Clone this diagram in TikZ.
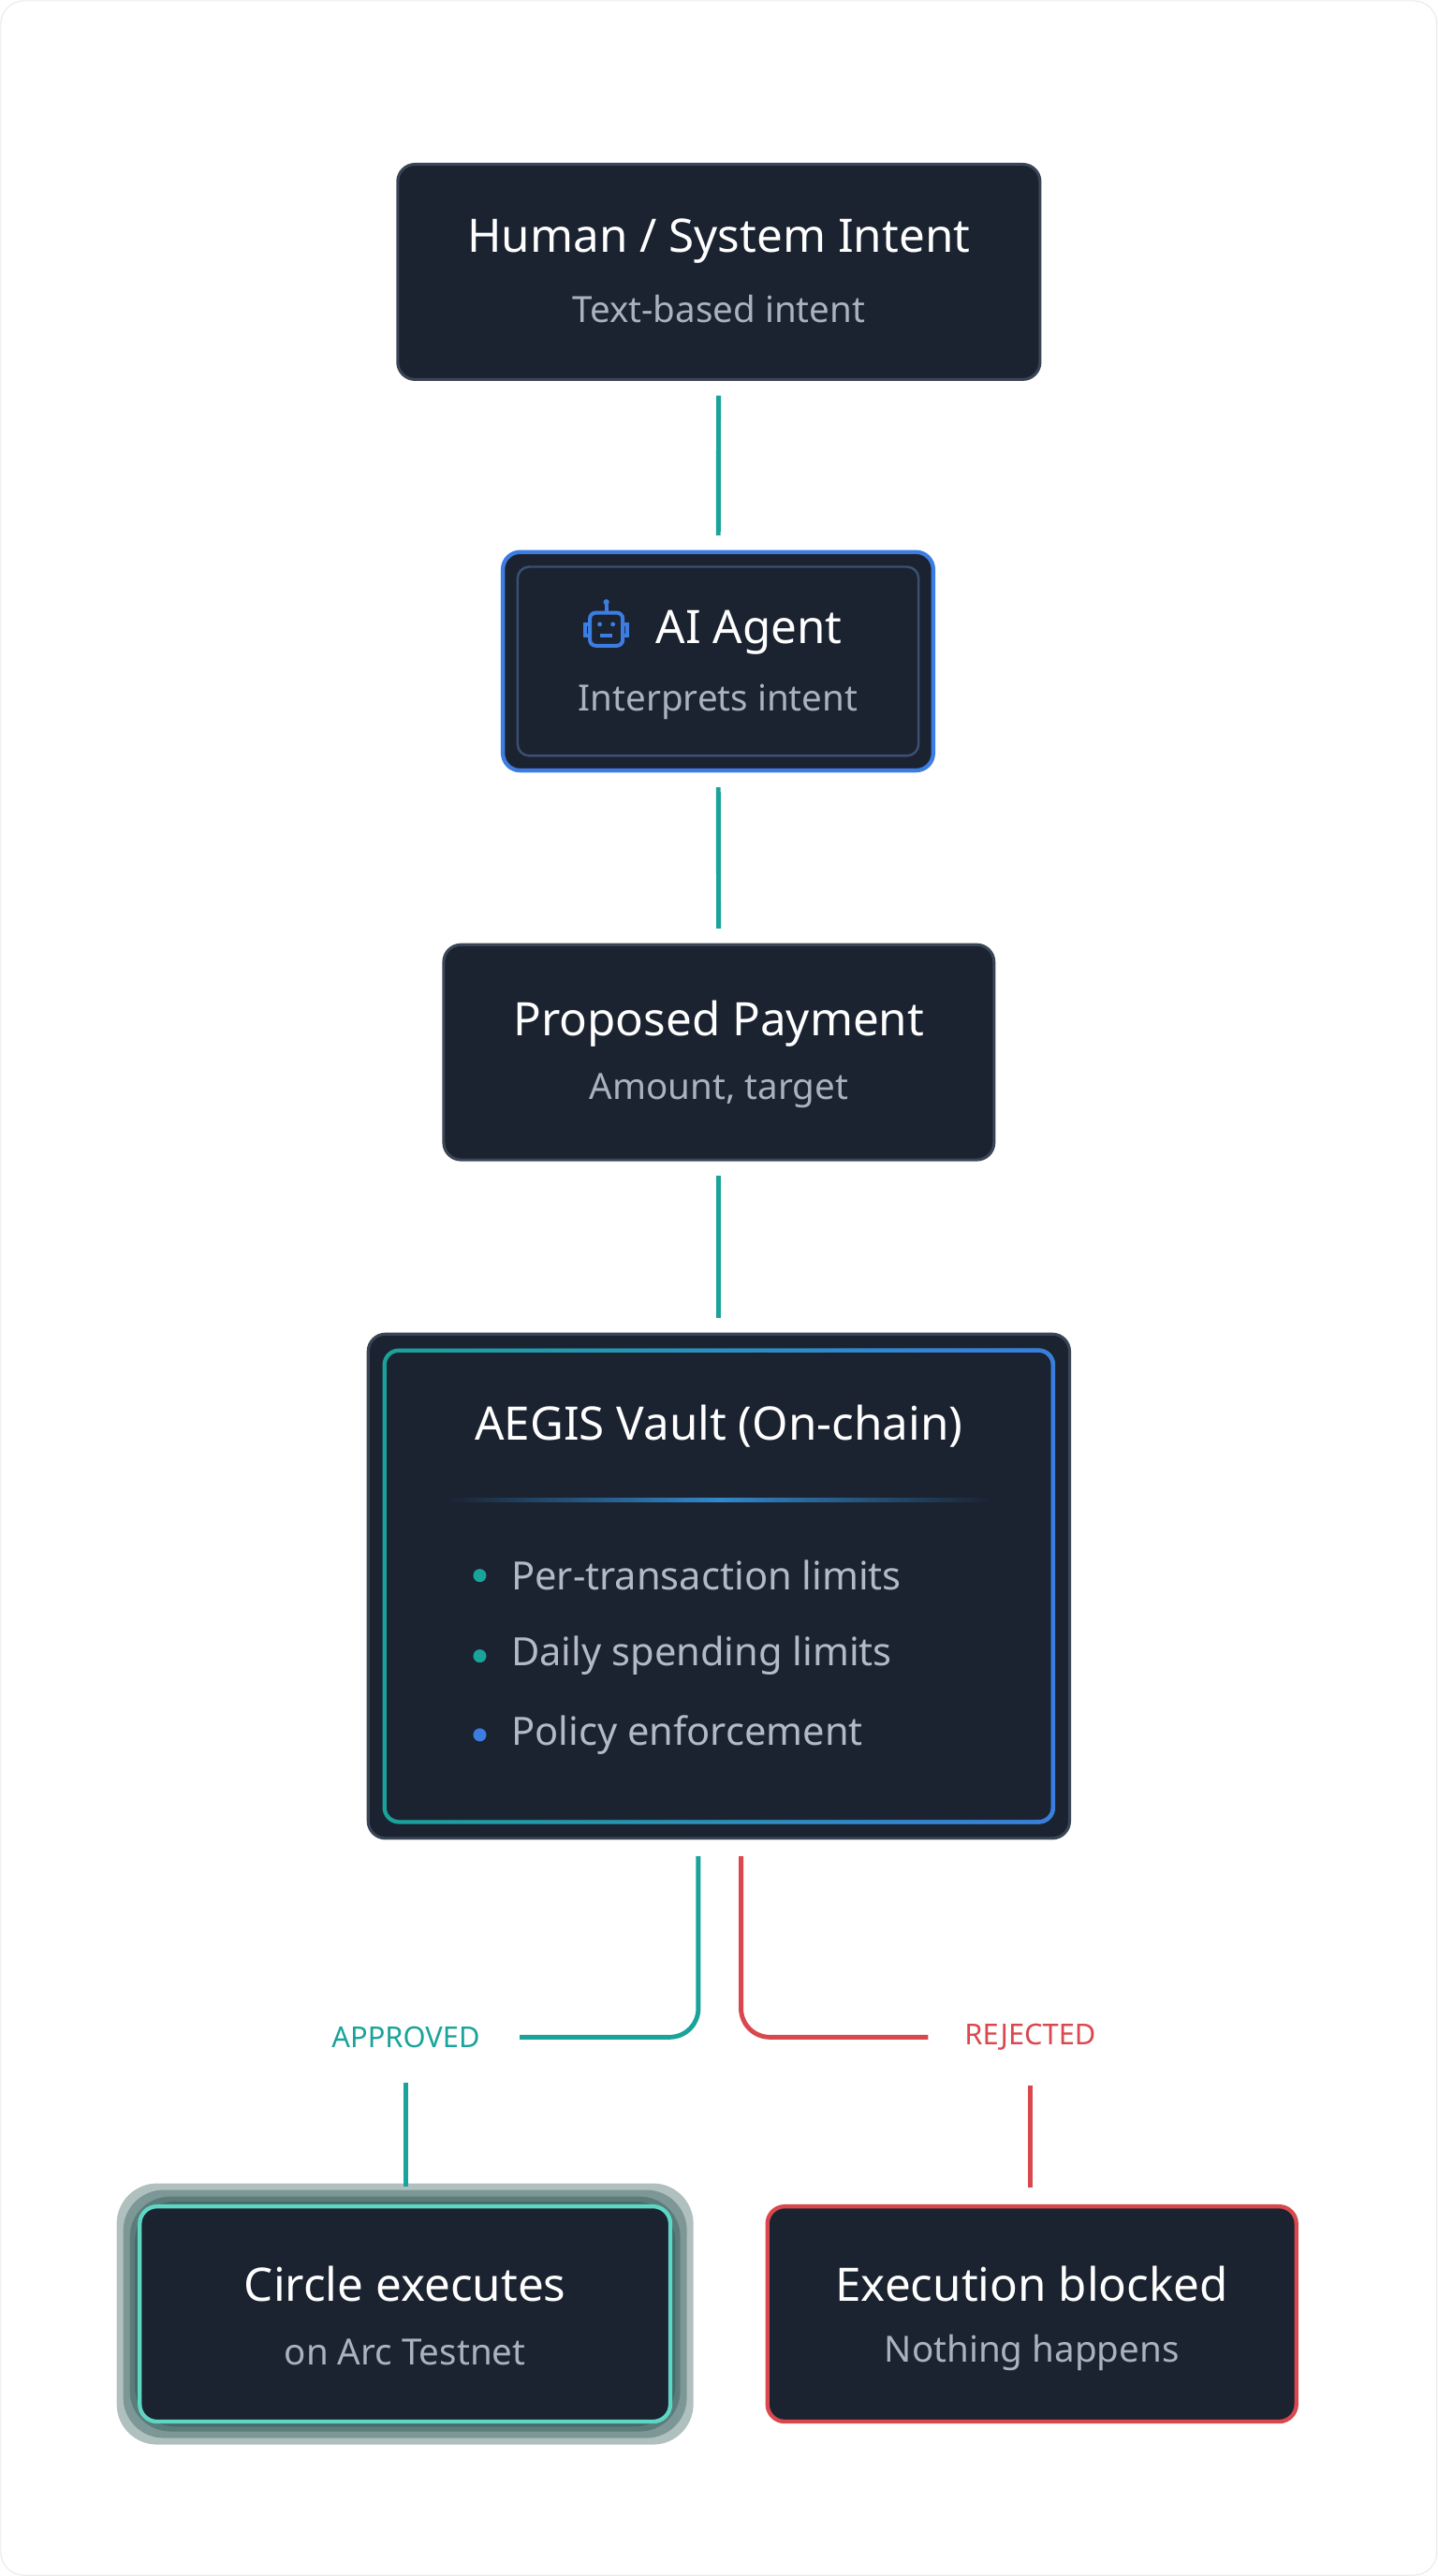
\documentclass[tikz,border=0pt]{standalone}
\usepackage{fontspec}
\setmainfont{Noto Sans}
\usetikzlibrary{fadings}
\definecolor{boxbg}{HTML}{1B2230}
\definecolor{boxline}{HTML}{3A4556}
\definecolor{subtext}{HTML}{AAB2BF}
\definecolor{tealc}{HTML}{1AA39A}
\definecolor{bluec}{HTML}{3B7DE0}
\definecolor{redc}{HTML}{D9484E}
\definecolor{mint}{HTML}{5ED6C4}
\definecolor{glow}{HTML}{1E4A48}
\tikzset{
  card/.style={draw=boxline, line width=1pt, fill=boxbg, rounded corners=6pt, align=center, inner sep=0pt},
  title/.style={text=white, font=\fontsize{16}{19}\selectfont},
  sub/.style={text=subtext, font=\fontsize{12.5}{15}\selectfont},
  link/.style={line width=1.6pt, shorten <=0.18cm, shorten >=0.18cm},
  tag/.style={font=\bfseries\fontsize{10}{12}\selectfont}
}
\begin{document}
\begin{tikzpicture}[x=0.02cm,y=-0.02cm]
  % page
  \useasboundingbox (0,0) rectangle (875,1568);
  \draw[black!8, rounded corners=8pt] (0.5,0.5) rectangle (874.5,1567.5);

  % boxes
  \node[card, minimum width=7.82cm, minimum height=2.62cm] (human) at (437.5,165.5) {};
  \node[title] (humant) at (437.5,147) {Human / System Intent};
  \node[sub] (humans) at (437.5,188) {Text-based intent};

  \node[card, draw=bluec, line width=1.4pt, minimum width=5.24cm, minimum height=2.66cm] (agent) at (437,402.5) {};
  \draw[boxline!80!bluec, line width=0.8pt, rounded corners=4pt] (315,345) rectangle (559,460);
  \node[title, anchor=west] (agentt) at (393,385) {AI Agent};
  \node[sub] (agents) at (437,427) {Interprets intent};
  % robot icon
  \begin{scope}[bluec, line width=1.3pt]
    \draw[rounded corners=2pt] (359,373) rectangle (379,393);
    \draw (369,373) -- (369,368);
    \fill (369,366.5) circle (1.8);
    \draw (359,380) -- (356,380) -- (356,387) -- (359,387);
    \draw (379,380) -- (382,380) -- (382,387) -- (379,387);
    \fill (365,380) circle (1.4) (373,380) circle (1.4);
    \draw (365.5,387) -- (372.5,387);
  \end{scope}

  \node[card, minimum width=6.7cm, minimum height=2.62cm] (payment) at (437.5,640.5) {};
  \node[title] (paymentt) at (437.5,623) {Proposed Payment};
  \node[sub] (payments) at (437.5,664) {Amount, target};

  \node[card, minimum width=8.54cm, minimum height=6.14cm] (vault) at (437.5,965.5) {};
  \draw[tealc, line width=1.4pt, rounded corners=5pt] (234,822) rectangle (641,1109);
  \draw[bluec, line width=1.4pt, rounded corners=5pt, path fading=west] (234,822) rectangle (641,1109);
  \node[title] (vaultt) at (437.5,868) {AEGIS Vault (On-chain)};
  \shade[left color=boxbg, right color=boxbg, middle color=bluec!70!tealc] (270,912) rectangle (605,914);
  \foreach \yy/\cc/\tt in {959/tealc/Per-transaction limits, 1008/tealc/Daily spending limits, 1056/bluec/Policy enforcement}{
    \fill[\cc] (292,\yy) circle (4);
    \node[sub, text=subtext!90!white, anchor=west, font=\fontsize{13.5}{16}\selectfont] at (305,\yy) {\tt};
  }

  % outcome boxes
  \foreach \g in {14,10,6,3}{
    \fill[glow, opacity=0.35, rounded corners=14pt] (85-\g,1343-\g) rectangle (408+\g,1474+\g);
  }
  \node[card, draw=mint, line width=1.4pt, minimum width=6.46cm, minimum height=2.62cm] (circle) at (246.5,1408.5) {};
  \node[title] (circlet) at (246.5,1390) {Circle executes};
  \node[sub] (circles) at (246.5,1432) {on Arc Testnet};

  \node[card, draw=redc, line width=1.4pt, minimum width=6.44cm, minimum height=2.62cm] (blocked) at (628,1408.5) {};
  \node[title] (blockedt) at (628,1390) {Execution blocked};
  \node[sub] (blockeds) at (628,1432) {Nothing happens};

  % labels
  \node[tag, text=tealc] (approved) at (247,1240) {APPROVED};
  \node[tag, text=redc] (rejected) at (627,1240) {REJECTED};

  % connectors
  \draw[link, tealc] (human) -- (agent);
  \draw[link, tealc] (agent) -- (payment);
  \draw[link, tealc] (payment) -- (vault);
  \draw[tealc, line width=1.6pt, rounded corners=0.35cm, shorten <=0.2cm, shorten >=0.36cm]
    ([xshift=-0.25cm]vault.south) |- (approved.east);
  \draw[redc, line width=1.6pt, rounded corners=0.35cm, shorten <=0.2cm, shorten >=0.32cm]
    ([xshift=0.27cm]vault.south) |- (rejected.west);
  \draw[tealc, line width=1.6pt, shorten <=0.3cm, shorten >=0.22cm] (approved.south) -- (approved.south |- circle.north);
  \draw[redc, line width=1.6pt, shorten <=0.3cm, shorten >=0.2cm] (rejected.south) -- (rejected.south |- blocked.north);
\end{tikzpicture}
\end{document}
